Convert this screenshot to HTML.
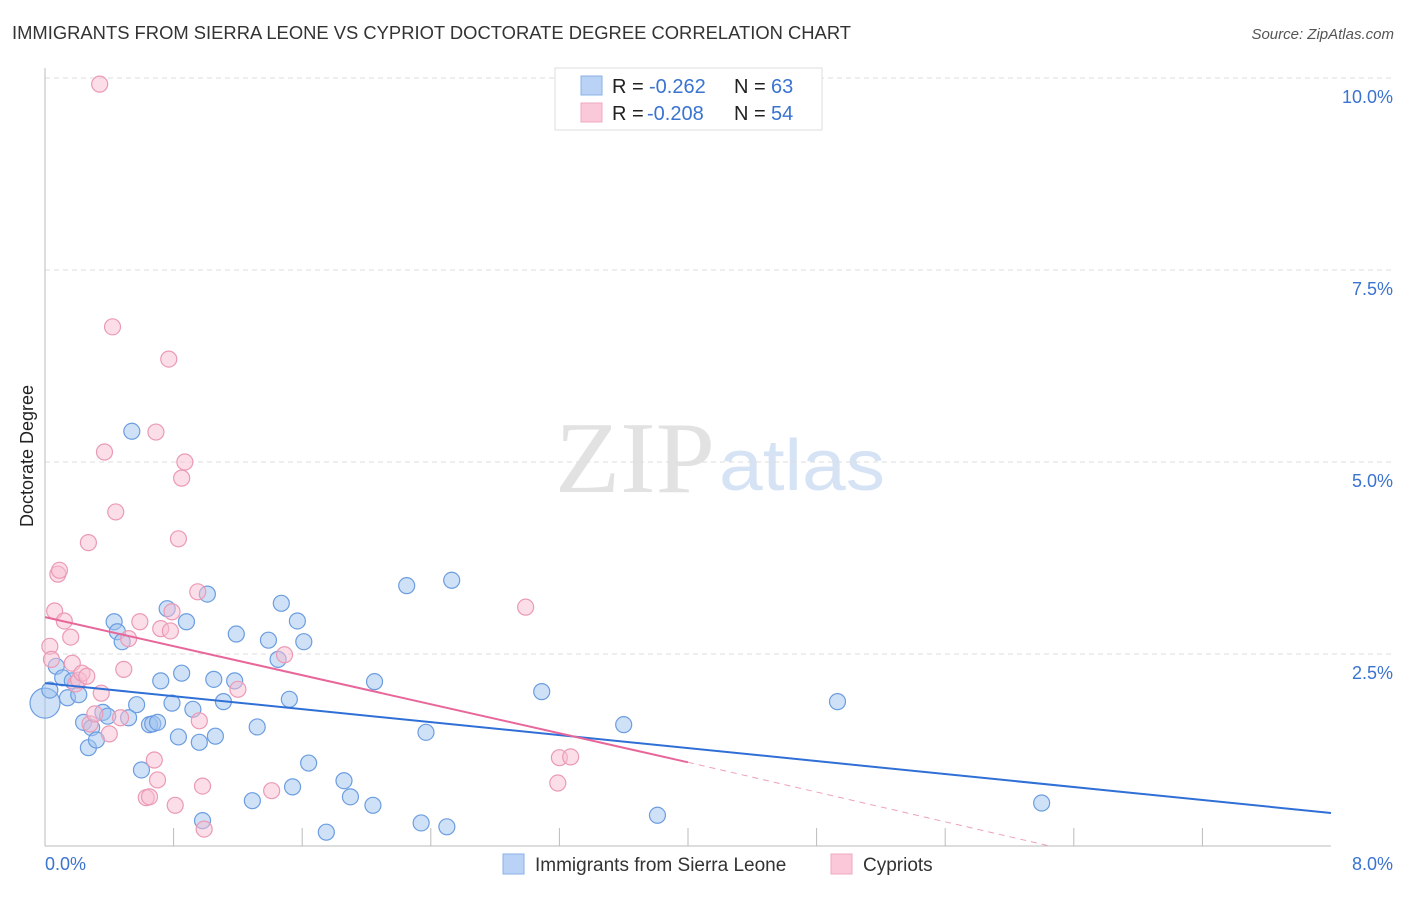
<!DOCTYPE html>
<html><head><meta charset="utf-8"><style>
body{margin:0;background:#fff;font-family:"Liberation Sans",sans-serif;}
</style></head><body>
<svg id="chart" width="1406" height="892" xmlns="http://www.w3.org/2000/svg" font-family="Liberation Sans, sans-serif">
<text x="12" y="39" font-size="18" fill="#333" textLength="839" lengthAdjust="spacingAndGlyphs">IMMIGRANTS FROM SIERRA LEONE VS CYPRIOT DOCTORATE DEGREE CORRELATION CHART</text>
<text x="1394" y="39" font-size="15" fill="#555" text-anchor="end" font-style="italic">Source: ZipAtlas.com</text>
<text transform="translate(33,456) rotate(-90)" font-size="18" fill="#222" text-anchor="middle">Doctorate Degree</text>
<g>
<text x="555" y="492" font-size="102" fill="#e2e2e2" style="font-family:'Liberation Serif',serif" textLength="160" lengthAdjust="spacingAndGlyphs">ZIP</text>
<text x="719" y="490" font-size="72" fill="#d6e3f5" textLength="166" lengthAdjust="spacingAndGlyphs">atlas</text>
</g>
<g id="grid"></g><g id="pts"></g><g id="lines"></g>
<g>
<rect x="555" y="68" width="267" height="62" fill="#fff" stroke="#ddd"/>
<rect x="581" y="76" width="21" height="19" fill="#b9d2f5" stroke="#8ab0e6"/>
<rect x="581" y="103" width="21" height="19" fill="#fac8d8" stroke="#f0a8c0"/>
<text x="612" y="93" font-size="20" fill="#222">R =</text>
<text x="649" y="93" font-size="20" fill="#3a73d0">-0.262</text>
<text x="734" y="93" font-size="20" fill="#222">N =</text>
<text x="771" y="93" font-size="20" fill="#3a73d0">63</text>
<text x="612" y="120" font-size="20" fill="#222">R =</text>
<text x="647" y="120" font-size="20" fill="#3a73d0">-0.208</text>
<text x="734" y="120" font-size="20" fill="#222">N =</text>
<text x="771" y="120" font-size="20" fill="#3a73d0">54</text>
</g>
<g>
<rect x="503" y="854" width="21" height="20" fill="#b9d2f5" stroke="#8ab0e6"/>
<text x="535" y="871" font-size="19" fill="#333">Immigrants from Sierra Leone</text>
<rect x="831" y="854" width="21" height="20" fill="#fac8d8" stroke="#f0a8c0"/>
<text x="863" y="871" font-size="19" fill="#333">Cypriots</text>
</g>
<text x="45" y="870" font-size="18" fill="#3a73d0">0.0%</text>
<text x="1393" y="870" font-size="18" fill="#3a73d0" text-anchor="end">8.0%</text>
</svg>
<script>
const yTicks=[2.5,5,7.5,10];
const yTickLabels=["2.5%","5.0%","7.5%","10.0%"];
const blueX=[0.00,0.03,0.07,0.11,0.14,0.17,0.21,0.24,0.27,0.29,0.32,0.36,0.39,0.43,0.45,0.48,0.52,0.54,0.57,0.60,0.65,0.67,0.70,0.72,0.76,0.79,0.83,0.85,0.88,0.92,0.96,0.98,1.01,1.05,1.06,1.11,1.18,1.19,1.29,1.32,1.39,1.45,1.47,1.52,1.54,1.57,1.61,1.64,1.75,1.86,1.90,2.04,2.05,2.25,2.34,2.37,2.50,2.53,3.09,3.60,3.81,4.93,6.20];
const blueY=[1.86,2.03,2.34,2.19,1.93,2.15,1.97,1.61,1.28,1.54,1.38,1.74,1.69,2.92,2.79,2.66,1.67,5.40,1.84,0.99,1.58,1.59,1.61,2.15,3.09,1.86,1.42,2.25,2.92,1.78,1.35,0.33,3.28,2.17,1.43,1.88,2.15,2.76,0.59,1.55,2.68,2.43,3.16,1.91,0.77,2.93,2.66,1.08,0.18,0.85,0.64,0.53,2.14,3.39,0.30,1.48,0.25,3.46,2.01,1.58,0.40,1.88,0.56];
const pinkX=[0.03,0.04,0.06,0.08,0.09,0.12,0.16,0.17,0.19,0.21,0.23,0.26,0.27,0.28,0.31,0.34,0.35,0.37,0.40,0.42,0.44,0.47,0.49,0.52,0.59,0.63,0.65,0.68,0.69,0.70,0.72,0.77,0.78,0.79,0.81,0.83,0.85,0.87,0.95,0.96,0.98,0.99,1.20,1.41,1.49,2.99,3.19,3.20,3.27];
const pinkY=[2.60,2.43,3.06,3.54,3.59,2.93,2.72,2.38,2.11,2.16,2.25,2.21,3.95,1.59,1.72,9.92,1.99,5.13,1.46,6.76,4.35,1.67,2.30,2.70,2.92,0.63,0.64,1.12,5.39,0.86,2.83,6.34,2.80,3.05,0.53,4.00,4.79,5.00,3.31,1.63,0.78,0.22,2.04,0.72,2.49,3.11,0.82,1.15,1.16];
const blueTrend=[2.12,0.43];
const pinkTrend=[2.98,1.09,0];
const pinkTrendX=[0,4.0,6.25];
const xMax=8;
const X=v=>45+v*(1331-45)/xMax;
const Y=v=>846-v*76.8;
const NS="http://www.w3.org/2000/svg";
function mk(tag,attrs,parent){const e=document.createElementNS(NS,tag);for(const k in attrs)e.setAttribute(k,attrs[k]);parent.appendChild(e);return e;}
const grid=document.getElementById('grid');
yTicks.forEach((t,i)=>{
 const l=mk('line',{x1:45,x2:1394,y1:Y(t),y2:Y(t),stroke:'#ddd','stroke-dasharray':'5,4'},grid);
 
 
 const tx=mk('text',{x:1393,y:Y(t)+25,'font-size':18,fill:'#3a73d0','text-anchor':'end'},grid);
 tx.textContent=yTickLabels[i];
 
 
});
const ax=mk('line',{x1:45,x2:1331,y1:846,y2:846,stroke:'#bbb'},grid);


const ay=mk('line',{x1:45,x2:45,y1:68,y2:846,stroke:'#bbb'},grid);


for(let i=1;i<10;i++){const tk=mk('line',{x1:X(i*0.8),x2:X(i*0.8),y1:828,y2:846,stroke:'#bbb'},grid);
 
 }
const pts=document.getElementById('pts');
blueX.forEach((v,i)=>{const c=mk('circle',{cx:X(v),cy:Y(blueY[i]),r:i===0?15:8,fill:'rgba(160,195,240,0.5)',stroke:'#6c9de0','stroke-width':1.2},pts);
 
 });
pinkX.forEach((v,i)=>{const c=mk('circle',{cx:X(v),cy:Y(pinkY[i]),r:8,fill:'rgba(248,190,210,0.5)',stroke:'#eb9ab5','stroke-width':1.2},pts);
 
 });
const lines=document.getElementById('lines');
const bl=mk('line',{x1:X(0),y1:Y(blueTrend[0]),x2:X(xMax),y2:Y(blueTrend[1]),stroke:'#2f6fd6','stroke-width':2},lines);


const pl=mk('line',{x1:X(pinkTrendX[0]),y1:Y(pinkTrend[0]),x2:X(pinkTrendX[1]),y2:Y(pinkTrend[1]),stroke:'#e8679a','stroke-width':2},lines);


const pd=mk('line',{x1:X(pinkTrendX[1]),y1:Y(pinkTrend[1]),x2:X(pinkTrendX[2]),y2:Y(pinkTrend[2]),stroke:'#eea0bd','stroke-width':1,'stroke-dasharray':'6,5'},lines);


</script>
</body></html>
